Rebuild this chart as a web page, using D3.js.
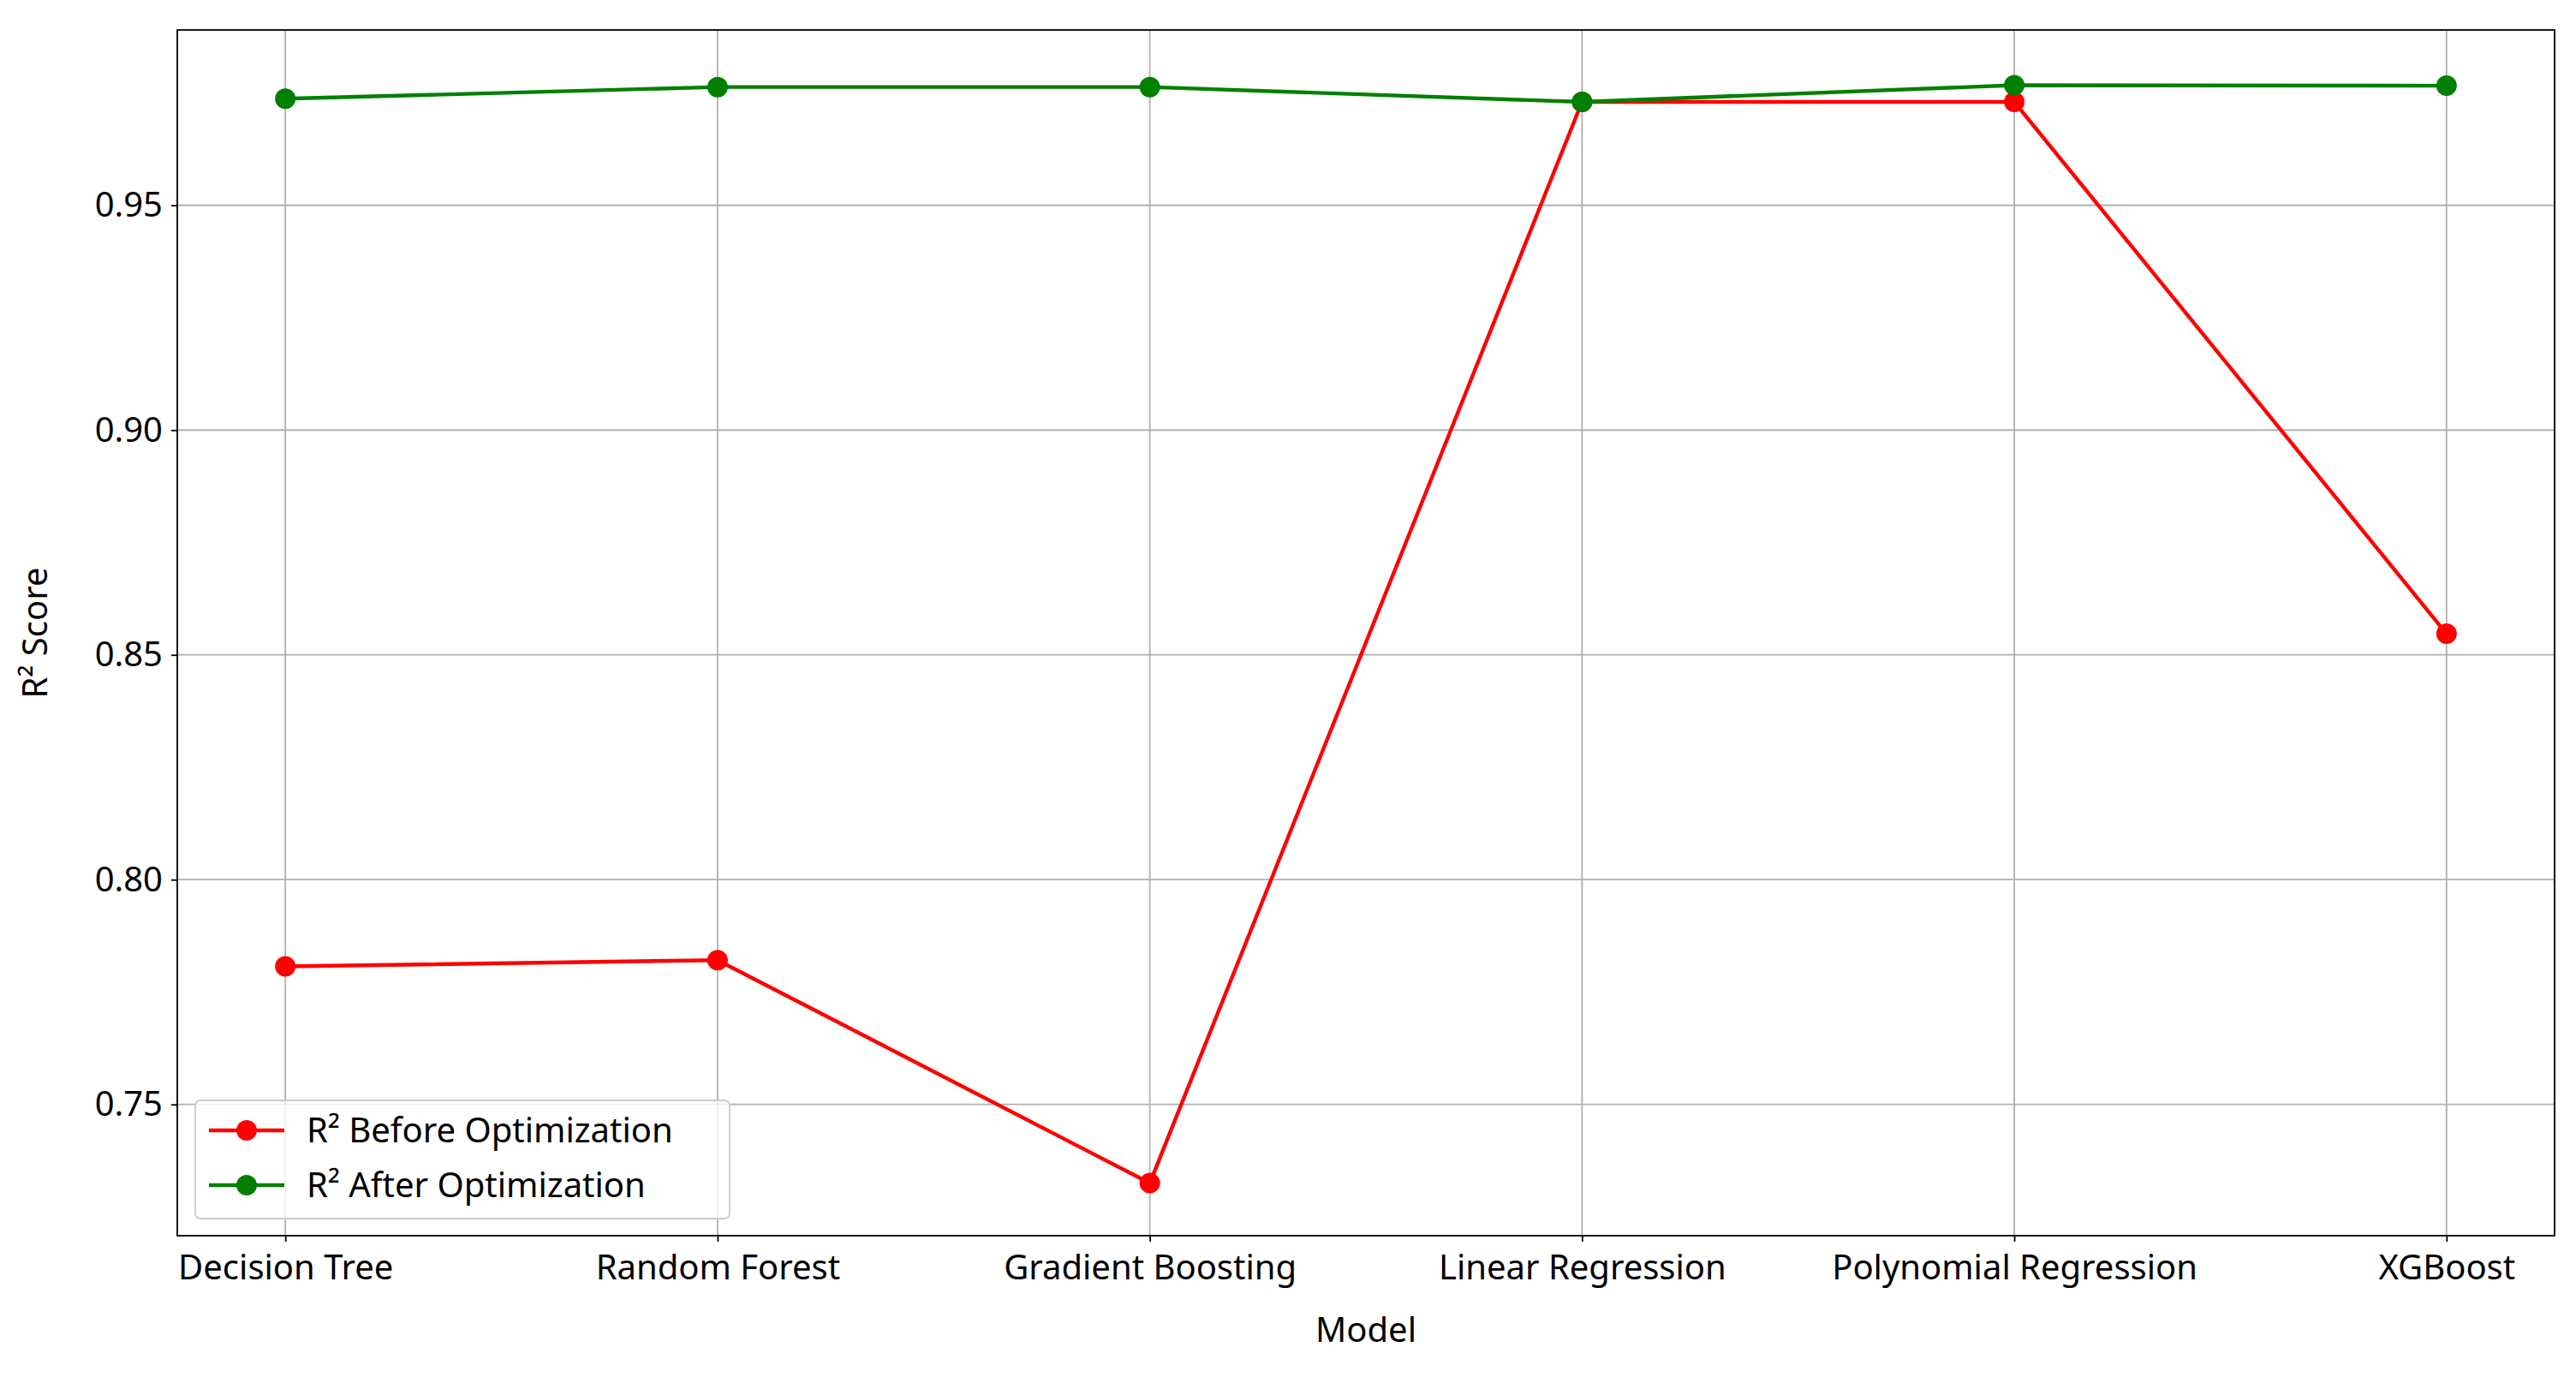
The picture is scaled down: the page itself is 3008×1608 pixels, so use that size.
<!DOCTYPE html>
<html lang="en">
<head>
<meta charset="UTF-8">
<title>R2 before and after optimization</title>
<script src="https://cdn.jsdelivr.net/npm/d3@7"></script>
<style>
  body { margin: 0; background: #fff; }
  text { font-family: "Noto Sans", sans-serif; fill: #000; }
</style>
</head>
<body>
<script>
var w = 3008, h = 1608;
var margin = {top: 35, right: 25, bottom: 165, left: 207};

var models = ["Decision Tree", "Random Forest", "Gradient Boosting", "Linear Regression", "Polynomial Regression", "XGBoost"];
var r2Before = [0.7807, 0.7821, 0.7325, 0.9730, 0.9730, 0.8547];
var r2After = [0.9737, 0.9763, 0.9763, 0.9730, 0.9767, 0.9766];
var yTicks = [0.75, 0.80, 0.85, 0.90, 0.95];

var series = [
  {name: "R\u00b2 Before Optimization", values: r2Before, color: "#ff0000"},
  {name: "R\u00b2 After Optimization", values: r2After, color: "#008000"}
];

var svg = d3.select("body").append("svg").attr("width", w).attr("height", h);

var x = d3.scalePoint().domain(models).range([margin.left, w - margin.right]).padding(0.25);
var y = d3.scaleLinear().domain([0.7208, 0.989]).range([h - margin.bottom, margin.top]);

// grid
svg.append("g").selectAll("line").data(models).enter().append("line")
  .attr("x1", d => x(d)).attr("x2", d => x(d))
  .attr("y1", margin.top).attr("y2", h - margin.bottom)
  .attr("stroke", "#b0b0b0").attr("stroke-width", 1.8);
svg.append("g").selectAll("line").data(yTicks).enter().append("line")
  .attr("x1", margin.left).attr("x2", w - margin.right)
  .attr("y1", d => y(d)).attr("y2", d => y(d))
  .attr("stroke", "#b0b0b0").attr("stroke-width", 1.8);

// axes
var xAxis = svg.append("g").attr("transform", "translate(0," + (h - margin.bottom) + ")")
  .call(d3.axisBottom(x).tickSize(7).tickPadding(16));
var yAxis = svg.append("g").attr("transform", "translate(" + margin.left + ",0)")
  .call(d3.axisLeft(y).tickValues(yTicks).tickFormat(d3.format(".2f")).tickSize(7).tickPadding(10));
[xAxis, yAxis].forEach(function(a) {
  a.select(".domain").remove();
  a.selectAll("line").attr("stroke-width", 1.8);
  a.selectAll("text").style("font-size", "40px").style("font-family", "Noto Sans");
});

svg.append("rect").attr("x", margin.left).attr("y", margin.top)
  .attr("width", w - margin.left - margin.right).attr("height", h - margin.top - margin.bottom)
  .attr("fill", "none").attr("stroke", "#000").attr("stroke-width", 1.8);

// lines
var line = d3.line().x((d, i) => x(models[i])).y(d => y(d));
series.forEach(function(s) {
  svg.append("path").datum(s.values).attr("d", line)
    .attr("fill", "none").attr("stroke", s.color).attr("stroke-width", 4.4);
  svg.append("g").selectAll("circle").data(s.values).enter().append("circle")
    .attr("cx", (d, i) => x(models[i])).attr("cy", d => y(d)).attr("r", 12)
    .attr("fill", s.color);
});

// labels
svg.append("text").attr("x", (margin.left + w - margin.right) / 2).attr("y", 1567)
  .attr("text-anchor", "middle").style("font-size", "40px").text("Model");
svg.append("text").attr("transform", "translate(55," + ((margin.top + h - margin.bottom) / 2) + ") rotate(-90)")
  .attr("text-anchor", "middle").style("font-size", "40px").text("R\u00b2 Score");

// legend
var lg = svg.append("g").attr("transform", "translate(228,1285)");
lg.append("rect").attr("width", 624).attr("height", 138).attr("rx", 6)
  .attr("fill", "#fff").attr("fill-opacity", 0.8).attr("stroke", "#ccc").attr("stroke-width", 1.8);
series.forEach(function(s, i) {
  var cy = 35 + i * 64;
  lg.antml = null;
  lg.append("line").attr("x1", 16).attr("x2", 104).attr("y1", cy).attr("y2", cy)
    .attr("stroke", s.color).attr("stroke-width", 4.4);
  lg.append("circle").attr("cx", 60).attr("cy", cy).attr("r", 12).attr("fill", s.color);
  lg.append("text").attr("x", 130).attr("y", cy + 14).style("font-size", "40px").text(s.name);
});
</script>
</body>
</html>
